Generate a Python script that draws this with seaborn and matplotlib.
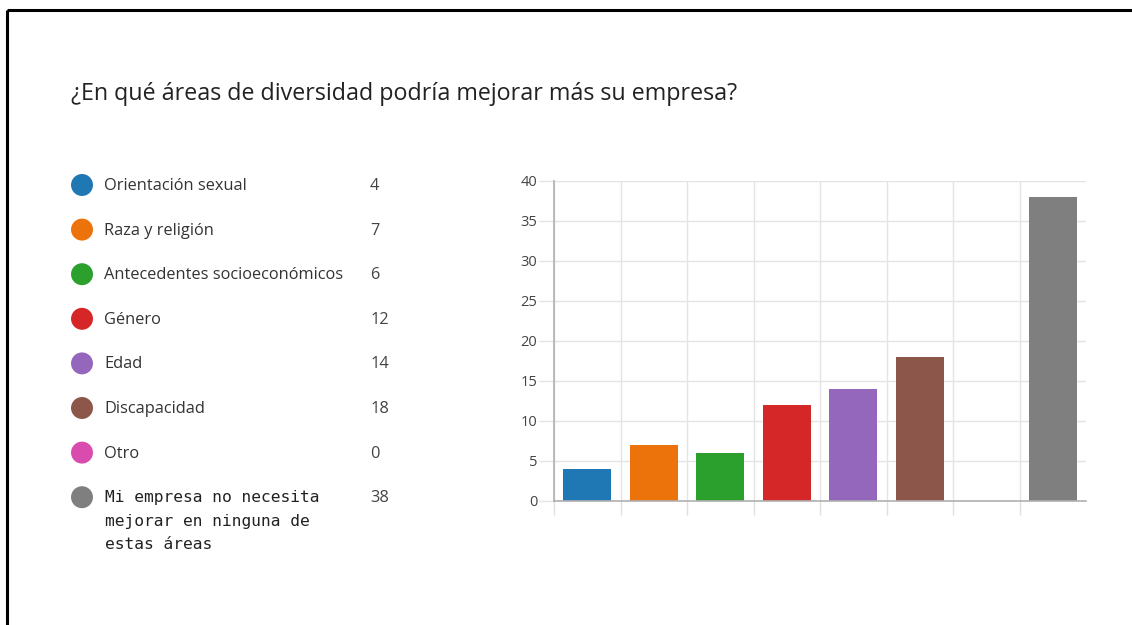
import numpy as np
import matplotlib
matplotlib.use("Agg")
import matplotlib.pyplot as plt
import seaborn as sns

# ---- data ----
title = "¿En qué áreas de diversidad podría mejorar más su empresa?"
categories = ["Orientación sexual", "Raza y religión", "Antecedentes socioeconómicos",
              "Género", "Edad", "Discapacidad", "Otro",
              "Mi empresa no necesita\nmejorar en ninguna de\nestas áreas"]
values = [4, 7, 6, 12, 14, 18, 0, 38]
colors = ["#1f77b4", "#ec720b", "#2ca02c", "#d62728", "#9467bd", "#8c564b", "#d94cae", "#7f7f7f"]
yticks = [0, 5, 10, 15, 20, 25, 30, 35, 40]

sns.set_style("white")
plt.rcParams["font.family"] = ["Open Sans", "DejaVu Sans"]

W, H = 1132, 625
fig = plt.figure(figsize=(W / 100, H / 100), dpi=100)

# overlay in pixel coordinates for frame, title and legend
ov = fig.add_axes([0, 0, 1, 1])
ov.set_xlim(0, W)
ov.set_ylim(H, 0)
ov.axis("off")
ov.plot([7, 7], [H, 10], color="black", lw=2.2, solid_capstyle="butt")
ov.plot([7, W], [10, 10], color="black", lw=2.2, solid_capstyle="butt")
ov.text(71, 94, title, fontsize=16.75, color="#222222", va="center", ha="left")

y0, dy = 185, 44.6
for i, (lab, val, c) in enumerate(zip(categories, values, colors)):
    y = y0 + i * dy
    ov.scatter([82], [y], s=250, color=c, edgecolor="none")
    if "\n" in lab:
        ov.text(105, y - 7, lab, fontsize=11.7, family="DejaVu Sans Mono", color="#222222",
                va="top", ha="left", linespacing=1.7)
    else:
        ov.text(104, y + 1, lab, fontsize=11.8, color="#333333", va="center", ha="left")
    ov.text(370, y + 1, str(val), fontsize=11.8, color="#444444", va="center", ha="left")

# bar chart
ax = fig.add_axes([554 / W, 124 / H, 532 / W, 320 / H])
sns.barplot(x=list(range(len(values))), y=values, hue=list(range(len(values))),
            palette=colors, legend=False, width=0.72, ax=ax, edgecolor="none",
            saturation=1)
ax.set_xlim(-0.5, len(values) - 0.5)
ax.set_ylim(0, 40)
ax.set_yticks(yticks)
ax.set_yticklabels([str(t) for t in yticks], fontsize=10.5, color="#444444")
ax.set_xticks(np.arange(-0.5, len(values) - 1, 1))
ax.set_xticklabels([])
ax.set_xlabel("")
ax.set_ylabel("")
ax.grid(True, color="#e4e4e4", lw=1)
ax.set_axisbelow(True)
ax.tick_params(axis="x", length=10, color="#e0e0e0", width=1, bottom=True)
ax.tick_params(axis="y", length=11, color="#e4e4e4", width=1, left=True, pad=1)
for s in ["top", "right"]:
    ax.spines[s].set_visible(False)
ax.spines["left"].set_color("#b0b0b0")
ax.spines["bottom"].set_color("#b0b0b0")
ax.spines["left"].set_linewidth(1.2)
ax.spines["bottom"].set_linewidth(1.2)

fig.savefig("out.png", dpi=100, facecolor="white")
